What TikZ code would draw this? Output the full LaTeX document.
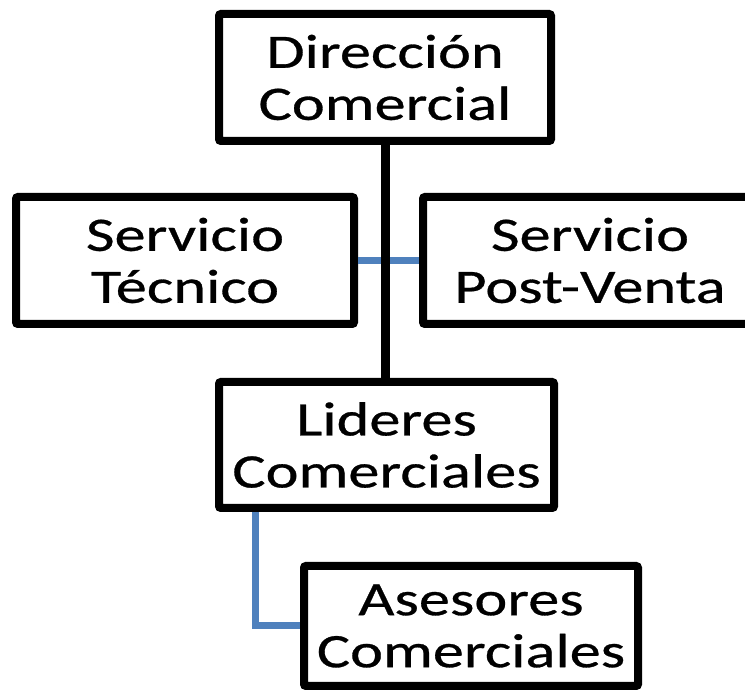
\documentclass[tikz,border=0pt]{standalone}
\usepackage{fontspec}
\setmainfont[FakeStretch=1.3,FakeBold=0.6]{Carlito}
\definecolor{linkblue}{HTML}{4F81BD}
\tikzset{
  box/.style={draw=black, line width=8pt, rounded corners=2pt, fill=white,
    align=center, inner sep=0pt, font=\fontsize{48}{52}\selectfont},
  mainline/.style={draw=black, line width=9pt},
  sideline/.style={draw=linkblue, line width=7pt}
}
\begin{document}
\begin{tikzpicture}[x=1pt,y=1pt]
\useasboundingbox (0,0) rectangle (745,692);
\clip (0,0) rectangle (745,692);
\node[box, minimum width=332pt, minimum height=127pt] (dir) at (385,614.5) {Dirección\\Comercial};
\node[box, minimum width=338pt, minimum height=127pt] (tec) at (185,431.5) {Servicio\\Técnico};
\node[box, minimum width=334pt, minimum height=127pt] (pv) at (590,431.5) {Servicio\\Post-Venta};
\node[box, minimum width=335pt, minimum height=126pt] (lid) at (386.5,247) {Lideres\\Comerciales};
\node[box, minimum width=334pt, minimum height=120pt] (ase) at (471,66) {Asesores\\Comerciales};
\coordinate (elbow) at (255,0);
\draw[sideline] (tec.east) -- (pv.west);
\draw[mainline] (dir.south) -- (dir.south |- lid.north);
\draw[sideline] (lid.south -| elbow) |- (ase.west);
\end{tikzpicture}
\end{document}
